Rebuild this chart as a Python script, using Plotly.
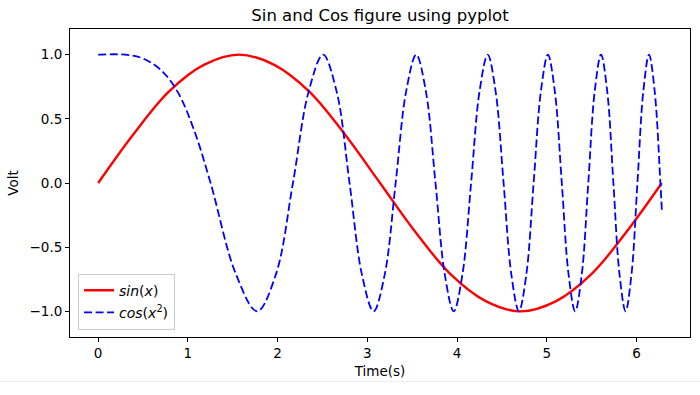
import plotly.graph_objects as go

# sin(x) values
sin_x = [0, 0.393, 0.785, 1.178, 1.571, 1.963, 2.356, 2.749, 3.142, 3.534,
         3.927, 4.320, 4.712, 5.105, 5.498, 5.890, 6.283]
sin_y = [0, 0.38, 0.71, 0.92, 1.0, 0.92, 0.71, 0.38, 0, -0.38,
         -0.71, -0.92, -1.0, -0.92, -0.71, -0.38, 0]

# cos(x^2) values
cos_x = [0, 0.3, 0.5, 0.7, 0.886, 1.07, 1.253, 1.535, 1.772, 1.982, 2.171, 2.345,
         2.507, 2.659, 2.802, 2.939, 3.070, 3.195, 3.316, 3.432, 3.545, 3.654,
         3.760, 3.863, 3.963, 4.061, 4.157, 4.250, 4.342, 4.431, 4.519, 4.605,
         4.690, 4.773, 4.854, 4.934, 5.013, 5.091, 5.168, 5.243, 5.317, 5.391,
         5.463, 5.534, 5.605, 5.675, 5.743, 5.811, 5.879, 5.945, 6.011, 6.076,
         6.140, 6.204, 6.267, 6.283]
cos_y = [1.0, 1.0, 0.97, 0.88, 0.71, 0.41, 0, -0.71, -1.0, -0.71, 0, 0.71,
         1.0, 0.71, 0, -0.71, -1.0, -0.71, 0, 0.71, 1.0, 0.71,
         0, -0.71, -1.0, -0.71, 0, 0.71, 1.0, 0.71, 0, -0.71,
         -1.0, -0.71, 0, 0.71, 1.0, 0.71, 0, -0.71, -1.0, -0.71,
         0, 0.71, 1.0, 0.71, 0, -0.71, -1.0, -0.71, 0, 0.71,
         1.0, 0.71, 0, -0.21]

x_ticks = [0, 1, 2, 3, 4, 5, 6]
y_ticks = [-1.0, -0.5, 0.0, 0.5, 1.0]

FONT = "DejaVu Sans"

fig = go.Figure()
fig.add_trace(go.Scatter(
    x=sin_x, y=sin_y, mode="lines", name="<i>sin</i>(<i>x</i>)", legendgroup="a",
    line=dict(color="#ff0000", width=2.4, shape="spline", smoothing=1.0),
))
fig.add_trace(go.Scatter(
    x=cos_x, y=cos_y, mode="lines", name="<i>cos</i>(<i>x</i><sup>2</sup>)", legendgroup="b",
    line=dict(color="#0000ff", width=1.8, dash="8px,3.5px", shape="spline", smoothing=1.0),
))

axis_common = dict(
    showgrid=False, zeroline=False, showline=True, linecolor="black", linewidth=1,
    mirror=True, ticks="outside", ticklen=4, tickwidth=1, tickcolor="black",
    tickfont=dict(family=FONT, size=13.5, color="black"), automargin=False,
)

fig.update_layout(
    width=700, height=395,
    margin=dict(l=70, r=10, t=29, b=58),
    paper_bgcolor="white", plot_bgcolor="white",
    font=dict(family=FONT, color="black"),
    title=dict(text="Sin and Cos figure using pyplot", x=380 / 700, xanchor="center",
               y=(395 - 15) / 395, yanchor="middle",
               font=dict(family=FONT, size=16.5, color="black")),
    xaxis=dict(range=[-0.314, 6.597], tickvals=x_ticks,
               title=dict(text="Time(s)", standoff=6, font=dict(family=FONT, size=13.5)),
               **axis_common),
    yaxis=dict(range=[-1.2, 1.2], tickvals=y_ticks, tickformat=".1f",
               title=dict(text="Volt", standoff=7, font=dict(family=FONT, size=13.5)),
               **axis_common),
    legend=dict(x=0.013, y=0.024, xanchor="left", yanchor="bottom",
                bgcolor="rgba(255,255,255,0.8)", bordercolor="#cccccc", borderwidth=1,
                font=dict(family=FONT, size=14, color="black"), itemwidth=30,
                tracegroupgap=1),
    shapes=[dict(type="line", xref="paper", yref="paper",
                 x0=-70 / 620, x1=1 + 10 / 620, y0=(337.3 - 382) / 308, y1=(337.3 - 382) / 308,
                 line=dict(color="#eeeeee", width=1))],
    showlegend=True,
)

fig.write_html("out.html", config={"displayModeBar": False},
               post_script="document.body.style.margin='0px';")
